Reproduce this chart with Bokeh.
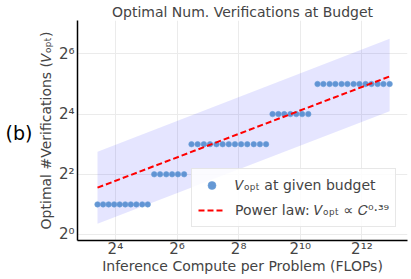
from bokeh.plotting import figure
from bokeh.models import FixedTicker, CustomJSTickFormatter, Range1d
from bokeh.layouts import row
from bokeh.core.properties import value
from bokeh.embed import file_html
from bokeh.resources import INLINE

# Inference compute budgets (FLOPs) and optimal number of verifications
compute = [10.70, 12.13, 13.74, 15.56, 17.63, 19.97, 22.63, 25.63, 29.24, 33.13,
           38.31, 43.71, 50.21, 57.28, 65.35, 75.06,
           88.65, 101.8, 117.0, 134.4, 155.4, 178.5, 205.1, 235.6, 270.6, 310.8, 359.5, 413.0, 474.4,
           548.7, 625.8, 714.1, 820.4, 935.9, 1067.5, 1226.3,
           1509.6, 1722.2, 1978.4, 2256.6, 2592.0, 2956.9, 3396.6, 3874.6, 4450.9, 5077.3, 5832.2, 6653.4, 7643.0]
v_opt = [2] * 10 + [4] * 6 + [8] * 13 + [16] * 7 + [32] * 13

# Power-law fit line endpoints and shaded band
fit_compute = [10.7, 7643.0]
fit_v = [2.94, 38.1]
band_compute = [10.7, 7643.0]
band_upper = [6.73, 90.5]
band_lower = [1.28, 17.1]

x_ticks = [16, 64, 256, 1024, 4096]
y_ticks = [1, 4, 16, 64]

W = 411
H = 276
SIDE_W = 34

# side panel holding the "(b)" panel tag (its frame is aligned with the main frame)
pb = figure(width=SIDE_W, height=H, x_range=Range1d(0, SIDE_W), y_range=Range1d(0, 1),
            output_backend="svg", toolbar_location=None,
            x_axis_location=None, y_axis_location=None,
            min_border_left=0, min_border_right=0, min_border_top=0, min_border_bottom=0)
pb.outline_line_color = None
pb.grid.visible = False
pb.text(x=[5], y=[0.49], text=["(b)"], text_font=value("DejaVu Sans"),
        text_font_size=value("19px"), text_baseline="middle", text_align="left",
        text_color="black")

p = figure(width=W - SIDE_W, height=H, x_axis_type="log", y_axis_type="log",
           x_range=(2 ** 2.77, 2 ** 13.48), y_range=(2 ** -0.2, 2 ** 7.11),
           output_backend="svg", toolbar_location=None,
           min_border_left=76 - SIDE_W, min_border_right=4, min_border_top=0, min_border_bottom=0,
           title="Optimal Num. Verifications at Budget")

p.title.text_font = "DejaVu Sans"
p.title.text_font_size = "14px"
p.title.text_font_style = "normal"
p.title.align = "center"
p.title.standoff = 2
p.outline_line_color = None

p.varea(x=band_compute, y1=band_lower, y2=band_upper, fill_color="blue", fill_alpha=0.1)
p.scatter(compute, v_opt, size=5.5, fill_color="#4a86cc", fill_alpha=0.85,
          line_color="#6d9fd8", line_width=0.6, legend_label="𝑉ₒₚₜ at given budget")
p.line(fit_compute, fit_v, line_color="red", line_width=2, line_dash="6 3",
       legend_label="Power law: 𝑉ₒₚₜ ∝ 𝐶⁰·³⁹")

fmt = CustomJSTickFormatter(code="""
const sup = {'0':'⁰','1':'¹','2':'²','3':'³','4':'⁴','5':'⁵','6':'⁶','7':'⁷','8':'⁸','9':'⁹'};
const e = Math.round(Math.log2(tick)).toString();
return '2' + e.split('').map(c => sup[c]).join('');
""")

for ax, ticks in ((p.xaxis, x_ticks), (p.yaxis, y_ticks)):
    ax.ticker = FixedTicker(ticks=ticks)
    ax.formatter = fmt
    ax.major_tick_line_color = None
    ax.minor_tick_line_color = None
    ax.major_tick_out = 0
    ax.major_tick_in = 0
    ax.minor_tick_out = 0
    ax.minor_tick_in = 0
    ax.axis_line_color = "black"
    ax.axis_line_width = 1.5
    ax.major_label_text_font = "DejaVu Sans"
    ax.major_label_text_font_size = "15px"
    ax.axis_label_text_font = "DejaVu Sans"
    ax.axis_label_text_font_size = "14px"
    ax.axis_label_text_font_style = "normal"

p.yaxis.major_label_standoff = 3
p.yaxis.axis_label_standoff = 2
p.yaxis.axis_label = "Optimal #Verifications (𝑉ₒₚₜ)"
p.xaxis.major_label_standoff = -1
p.xaxis.axis_label_standoff = -3
p.xaxis.axis_label = "Inference Compute per Problem (FLOPs)"

p.xgrid.ticker = FixedTicker(ticks=x_ticks)
p.ygrid.ticker = FixedTicker(ticks=y_ticks)
p.grid.grid_line_color = "#ebebeb"
p.grid.grid_line_width = 1

p.legend.location = (114, 13)
p.legend.label_text_font = "DejaVu Sans"
p.legend.label_text_font_size = "14px"
p.legend.border_line_color = "#d0d0d0"
p.legend.background_fill_alpha = 0.85
p.legend.glyph_width = 27
p.legend.label_standoff = 10
p.legend.spacing = 5
p.legend.padding = 6
p.legend.margin = 0

layout = row(pb, p, spacing=0)
open("out.html", "w").write(file_html(layout, INLINE))
